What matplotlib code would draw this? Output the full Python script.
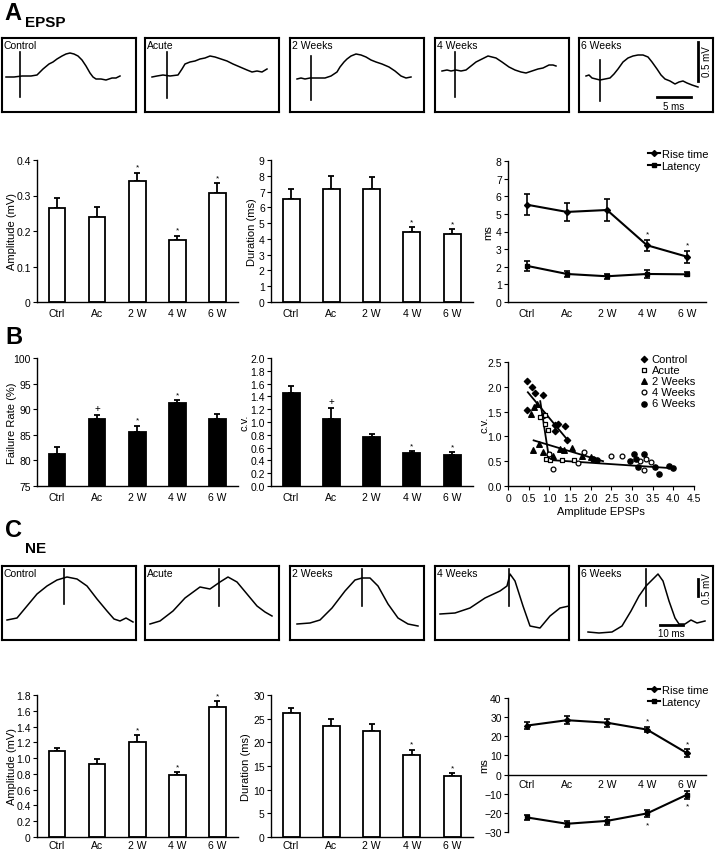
import matplotlib
matplotlib.use('Agg')
import matplotlib.pyplot as plt
from matplotlib.lines import Line2D
import numpy as np

plt.rcParams['font.family'] = ['Liberation Sans', 'DejaVu Sans']
plt.rcParams['font.size'] = 7.5

# ---------------- data ----------------
groups = ['Ctrl', 'Ac', '2 W', '4 W', '6 W']

# A - EPSP
epsp_amp = [0.264, 0.239, 0.341, 0.176, 0.308]
epsp_amp_err = [0.029, 0.030, 0.023, 0.011, 0.026]
epsp_amp_mark = ['', '', '*', '*', '*']
epsp_dur = [6.52, 7.17, 7.17, 4.43, 4.28]
epsp_dur_err = [0.65, 0.80, 0.73, 0.32, 0.34]
epsp_dur_mark = ['', '', '', '*', '*']
epsp_rise = [5.52, 5.11, 5.22, 3.22, 2.57]
epsp_rise_err = [0.59, 0.49, 0.60, 0.32, 0.35]
epsp_lat = [2.05, 1.59, 1.46, 1.59, 1.57]
epsp_lat_err = [0.28, 0.17, 0.15, 0.20, 0.12]
epsp_rise_mark = ['', '', '', '*', '*']

# B - failures / c.v.
fail_rate = [81.3, 88.0, 85.6, 91.3, 88.0]
fail_err = [1.4, 0.8, 1.2, 0.5, 1.0]
fail_mark = ['', '+', '*', '*', '']
cv_vals = [1.45, 1.04, 0.76, 0.51, 0.49]
cv_err = [0.11, 0.18, 0.06, 0.035, 0.035]
cv_mark = ['', '+', '', '*', '*']

sc_ctrl_x = [0.45, 0.57, 0.65, 0.84, 0.47, 0.88, 1.14, 1.38, 1.14, 1.42, 1.20]
sc_ctrl_y = [2.11, 1.99, 1.88, 1.83, 1.53, 1.43, 1.22, 1.21, 1.11, 0.92, 1.25]
sc_acute_x = [0.77, 0.89, 0.90, 0.96, 1.00, 0.93, 1.02, 1.30, 1.60]
sc_acute_y = [1.40, 1.44, 1.26, 1.13, 0.65, 0.55, 0.52, 0.52, 0.52]
sc_2w_x = [0.62, 0.70, 0.55, 0.75, 0.60, 1.10, 1.25, 1.55, 1.80, 2.00, 1.35, 0.85]
sc_2w_y = [1.60, 1.65, 1.45, 0.85, 0.72, 0.60, 0.75, 0.77, 0.60, 0.58, 0.72, 0.68]
sc_4w_x = [1.10, 1.00, 1.85, 2.50, 2.75, 3.20, 3.35, 3.45, 3.30, 2.05, 1.70]
sc_4w_y = [0.35, 0.65, 0.68, 0.60, 0.60, 0.50, 0.55, 0.48, 0.33, 0.55, 0.47]
sc_6w_x = [2.05, 2.15, 3.05, 3.30, 3.15, 3.55, 3.10, 3.65, 3.90, 4.00, 2.95]
sc_6w_y = [0.55, 0.52, 0.65, 0.65, 0.38, 0.38, 0.55, 0.24, 0.40, 0.37, 0.50]
# regression lines (x0, x1), (y0, y1)
fit_ctrl = ([0.48, 1.42], [1.89, 0.95])
fit_acute = ([0.78, 1.00], [1.71, 0.52])
fit_2w = ([0.62, 2.30], [0.92, 0.50])
fit_late = ([0.90, 3.95], [0.53, 0.36])

# C - NE
ne_amp = [1.084, 0.924, 1.21, 0.785, 1.65]
ne_amp_err = [0.045, 0.065, 0.08, 0.035, 0.07]
ne_amp_mark = ['', '', '*', '*', '*']
ne_dur = [26.15, 23.5, 22.5, 17.4, 12.8]
ne_dur_err = [1.1, 1.4, 1.4, 1.0, 0.7]
ne_dur_mark = ['', '', '', '*', '*']
ne_rise = [25.6, 28.4, 27.1, 23.5, 11.2]
ne_rise_err = [2.0, 2.2, 2.0, 1.5, 2.0]
ne_lat = [-22.4, -25.7, -24.2, -20.3, -10.5]
ne_lat_err = [1.3, 1.5, 2.0, 2.0, 2.0]
ne_mark = ['', '', '', '*', '*']

# example traces, (x, y) in pixels inside each 134 x 74 box
box_names = ['Control', 'Acute', '2 Weeks', '4 Weeks', '6 Weeks']
epsp_traces = [
    [(4, 39), (12, 39), (20, 38), (29, 38), (35, 37), (41, 31), (47, 26), (51, 24), (55, 21), (60, 18), (64, 16), (68, 15), (72, 16), (76, 18), (80, 22), (84, 28), (88, 35), (91, 39), (94, 41), (99, 41), (104, 42), (107, 41), (110, 40), (114, 40), (118, 38)],
    [(7, 39), (12, 38), (18, 37), (25, 38), (33, 37), (37, 31), (40, 26), (45, 24), (50, 23), (55, 21), (60, 20), (65, 18), (70, 19), (76, 21), (82, 23), (88, 26), (95, 29), (102, 32), (107, 34), (112, 33), (117, 34), (122, 31)],
    [(7, 41), (11, 40), (15, 41), (20, 40), (27, 40), (35, 40), (41, 38), (47, 34), (50, 29), (54, 24), (57, 21), (61, 18), (66, 16), (71, 17), (76, 19), (81, 22), (86, 24), (92, 26), (99, 29), (105, 33), (111, 38), (116, 40), (121, 39)],
    [(7, 33), (12, 32), (16, 33), (21, 32), (26, 33), (31, 32), (36, 28), (41, 24), (47, 21), (53, 18), (57, 19), (61, 20), (67, 24), (74, 29), (80, 32), (86, 34), (91, 35), (97, 33), (103, 31), (108, 30), (114, 27), (118, 27), (121, 28)],
    [(7, 38), (10, 37), (13, 40), (17, 41), (21, 42), (26, 41), (31, 40), (35, 36), (39, 31), (44, 24), (49, 20), (54, 18), (59, 17), (64, 17), (69, 19), (73, 24), (78, 31), (82, 37), (86, 41), (91, 43), (96, 46), (100, 44), (104, 43), (108, 45), (113, 47), (116, 48), (119, 49)],
]
epsp_stim = [(18, 14, 59), (22, 14, 60), (21, 18, 62), (20, 14, 59), (21, 22, 63)]
ne_traces = [
    [(5, 54), (15, 52), (25, 40), (35, 28), (45, 20), (55, 14), (65, 11), (75, 13), (85, 20), (95, 33), (105, 45), (112, 53), (118, 55), (124, 52), (131, 56)],
    [(5, 58), (15, 55), (28, 45), (40, 32), (55, 21), (65, 23), (75, 16), (83, 11), (92, 16), (102, 28), (112, 40), (120, 46), (127, 50)],
    [(7, 58), (20, 57), (30, 54), (42, 42), (55, 25), (65, 14), (72, 12), (80, 12), (88, 20), (98, 38), (108, 52), (118, 58), (128, 60)],
    [(5, 48), (20, 47), (35, 42), (50, 32), (65, 25), (72, 20), (75, 8), (80, 15), (88, 40), (95, 60), (105, 62), (115, 50), (125, 42), (134, 40)],
    [(9, 66), (20, 67), (33, 66), (43, 60), (52, 45), (60, 30), (67, 20), (72, 15), (79, 8), (84, 15), (90, 35), (96, 52), (100, 58), (106, 58), (112, 54), (118, 57), (126, 55)],
]
ne_stim = [(62, 3, 38), (74, 3, 40), (72, 3, 40), (74, 3, 40), (67, 3, 40)]

# ---------------- layout ----------------
W, H = 716, 853
fig = plt.figure(figsize=(W / 100, H / 100), dpi=100)


def px_axes(x0, y0, x1, y1):
    return fig.add_axes([x0 / W, 1 - y1 / H, (x1 - x0) / W, (y1 - y0) / H])


def style(ax):
    for s in ['top', 'right']:
        ax.spines[s].set_visible(False)
    for s in ['left', 'bottom']:
        ax.spines[s].set_linewidth(1.0)
    ax.tick_params(axis='y', direction='out', length=3, width=0.8, pad=1.5, labelsize=7.5)
    ax.tick_params(axis='x', length=0, pad=4, labelsize=7.5)


def set_label_x(ax, px):
    # y label centre at a given figure pixel x (label is anchored on its right side)
    bb = ax.get_position()
    frac = ((px + 5) / W - bb.x0) / bb.width
    ax.yaxis.set_label_coords(frac, 0.5)


def bar_panel(ax, vals, errs, marks, color, ylim, yticks, ylabels, ylabel, lab_x):
    x = np.arange(len(groups))
    ax.bar(x, vals, width=0.42, color=color, edgecolor='black', linewidth=1.3, zorder=2)
    ax.errorbar(x, vals, yerr=[np.zeros(len(vals)), errs], fmt='none', ecolor='black',
                elinewidth=1.3, capsize=2.5, capthick=1.3, zorder=1)
    pad = (ylim[1] - ylim[0]) * 0.015
    for xi, v, e, m in zip(x, vals, errs, marks):
        if m:
            ax.text(xi, v + e + pad, m, ha='center', va='bottom', fontsize=6 if m == '*' else 7)
    ax.set_xlim(-0.5, 4.52)
    ax.set_ylim(*ylim)
    ax.set_yticks(yticks)
    ax.set_yticklabels(ylabels)
    ax.set_xticks(x)
    ax.set_xticklabels(groups)
    ax.set_ylabel(ylabel, fontsize=8)
    style(ax)
    set_label_x(ax, lab_x)


def line_panel(ax, rise, rerr, lat, lerr):
    x = np.arange(len(groups))
    ax.errorbar(x, rise, yerr=rerr, color='black', marker='D', ms=3, lw=1.5,
                elinewidth=1.2, capsize=2.5, capthick=1.2)
    ax.errorbar(x, lat, yerr=lerr, color='black', marker='s', ms=3, lw=1.5,
                elinewidth=1.2, capsize=2.5, capthick=1.2)
    ax.set_xlim(-0.475, 4.475)
    ax.set_xticks(x)
    ax.set_xticklabels(groups)
    style(ax)


def line_legend(ax, y_px):
    handles = [Line2D([], [], color='black', marker='D', ms=3, lw=1.5),
               Line2D([], [], color='black', marker='s', ms=3, lw=1.5)]
    ax.legend(handles, ['Rise time', 'Latency'], loc='upper right',
              bbox_to_anchor=(708 / W, 1 - y_px / H), bbox_transform=fig.transFigure,
              frameon=False, fontsize=8, handlelength=1.1, handletextpad=0.15,
              labelspacing=0.15, borderpad=0, borderaxespad=0)


def trace_box(x0, y0, name, pts, stim):
    ax = px_axes(x0, y0, x0 + 134, y0 + 74)
    ax.set_xlim(0, 134)
    ax.set_ylim(74, 0)
    ax.set_xticks([])
    ax.set_yticks([])
    for s in ax.spines.values():
        s.set_linewidth(1.5)
    xs = [p[0] for p in pts]
    ys = [p[1] for p in pts]
    ax.plot(xs, ys, color='black', lw=1.1)
    ax.plot([stim[0], stim[0]], [stim[1], stim[2]], color='black', lw=1.2)
    ax.text(2, 2, name, ha='left', va='top', fontsize=7.5)
    return ax


box_left = [2, 145, 290, 435, 579]

# ---- A ----
fig.text(4 / W, 1 - 14 / H, 'A', fontsize=17, weight='bold', va='center')
fig.text(25 / W, 1 - 23 / H, 'EPSP', fontsize=11, weight='bold', va='center')
for i in range(5):
    ax = trace_box(box_left[i], 39, box_names[i], epsp_traces[i], epsp_stim[i])
    if i == 4:
        ax.plot([119, 119], [4, 43], color='black', lw=2)
        ax.text(128, 23, '0.5 mV', rotation=90, ha='center', va='center', fontsize=7)
        ax.plot([78, 112], [59, 59], color='black', lw=2)
        ax.text(95, 68, '5 ms', ha='center', va='center', fontsize=7)

ax = px_axes(37, 161, 238, 303)
bar_panel(ax, epsp_amp, epsp_amp_err, epsp_amp_mark, 'white', (0, 0.4),
          [0, 0.1, 0.2, 0.3, 0.4], ['0', '0.1', '0.2', '0.3', '0.4'], 'Amplitude (mV)', 12)
ax = px_axes(271, 161, 473, 303)
bar_panel(ax, epsp_dur, epsp_dur_err, epsp_dur_mark, 'white', (0, 9),
          range(10), [str(v) for v in range(10)], 'Duration (ms)', 252)
ax = px_axes(508, 162, 706, 303)
line_panel(ax, epsp_rise, epsp_rise_err, epsp_lat, epsp_lat_err)
ax.set_ylim(0, 8)
ax.set_yticks(range(9))
ax.set_ylabel('ms', fontsize=8)
set_label_x(ax, 488)
for xi, v, e, m in zip(range(5), epsp_rise, epsp_rise_err, epsp_rise_mark):
    if m:
        ax.text(xi, v + e + 0.1, m, ha='center', va='bottom', fontsize=6)
line_legend(ax, 150)

# ---- B ----
fig.text(5 / W, 1 - 338 / H, 'B', fontsize=17, weight='bold', va='center')
ax = px_axes(37, 359, 238, 487)
bar_panel(ax, fail_rate, fail_err, fail_mark, 'black', (75, 100),
          [75, 80, 85, 90, 95, 100], ['75', '80', '85', '90', '95', '100'], 'Failure Rate (%)', 12)
ax = px_axes(271, 359, 473, 487)
cv_ticks = np.arange(0, 2.01, 0.2)
bar_panel(ax, cv_vals, cv_err, cv_mark, 'black', (0, 2.0),
          cv_ticks, ['%.1f' % v for v in cv_ticks], 'c.v.', 244)

ax = px_axes(508, 363, 694, 487)
ax.scatter(sc_ctrl_x, sc_ctrl_y, marker='D', s=10, color='black', label='Control', zorder=3)
ax.scatter(sc_acute_x, sc_acute_y, marker='s', s=12, facecolor='white', edgecolor='black', linewidth=0.9, label='Acute', zorder=3)
ax.scatter(sc_2w_x, sc_2w_y, marker='^', s=16, color='black', label='2 Weeks', zorder=3)
ax.scatter(sc_4w_x, sc_4w_y, marker='o', s=12, facecolor='white', edgecolor='black', linewidth=0.9, label='4 Weeks', zorder=3)
ax.scatter(sc_6w_x, sc_6w_y, marker='o', s=14, color='black', label='6 Weeks', zorder=3)
for fx, fy in [fit_ctrl, fit_acute, fit_2w, fit_late]:
    ax.plot(fx, fy, color='black', lw=1.3, zorder=2)
ax.set_xlim(0, 4.5)
ax.set_ylim(0, 2.5)
xt = np.arange(0, 4.51, 0.5)
ax.set_xticks(xt)
ax.set_xticklabels(['0'] + ['%.1f' % v for v in xt[1:]])
yt = np.arange(0, 2.51, 0.5)
ax.set_yticks(yt)
ax.set_yticklabels(['%.1f' % v for v in yt])
style(ax)
ax.tick_params(axis='x', direction='out', length=3, width=0.8, pad=2)
ax.set_ylabel('c.v.', fontsize=8)
set_label_x(ax, 484)
ax.set_xlabel('Amplitude EPSPs', fontsize=8, labelpad=2)
ax.legend(loc='upper right', bbox_to_anchor=(695 / W, 1 - 355 / H), bbox_transform=fig.transFigure,
          frameon=False, fontsize=8, handlelength=0.8, handletextpad=0.3, labelspacing=0.1,
          borderpad=0, borderaxespad=0, scatterpoints=1)

# ---- C ----
fig.text(5 / W, 1 - 531 / H, 'C', fontsize=17, weight='bold', va='center')
fig.text(25 / W, 1 - 549 / H, 'NE', fontsize=11, weight='bold', va='center')
for i in range(5):
    ax = trace_box(box_left[i], 567, box_names[i], ne_traces[i], ne_stim[i])
    if i == 4:
        ax.plot([119, 119], [13, 30], color='black', lw=2)
        ax.text(128, 22, '0.5 mV', rotation=90, ha='center', va='center', fontsize=7)
        ax.plot([81, 104], [59, 59], color='black', lw=2)
        ax.text(92, 67, '10 ms', ha='center', va='center', fontsize=7)

ax = px_axes(37, 696, 238, 838)
amp_ticks = np.arange(0, 1.81, 0.2)
bar_panel(ax, ne_amp, ne_amp_err, ne_amp_mark, 'white', (0, 1.8),
          amp_ticks, ['0'] + ['%.1f' % v for v in amp_ticks[1:]], 'Amplitude (mV)', 12)
ax = px_axes(271, 696, 473, 838)
bar_panel(ax, ne_dur, ne_dur_err, ne_dur_mark, 'white', (0, 30),
          range(0, 31, 5), [str(v) for v in range(0, 31, 5)], 'Duration (ms)', 246)
for a in fig.axes[-2:]:
    a.tick_params(axis='x', pad=2)

ax = px_axes(508, 699, 706, 833)
line_panel(ax, ne_rise, ne_rise_err, ne_lat, ne_lat_err)
ax.set_ylim(-30, 40)
ax.set_yticks(range(-30, 41, 10))
ax.spines['bottom'].set_position(('data', 0))
ax.tick_params(axis='x', pad=3)
ax.set_ylabel('ms', fontsize=8)
set_label_x(ax, 484)
for xi, v, e, m in zip(range(5), ne_rise, ne_rise_err, ne_mark):
    if m:
        ax.text(xi, v + e + 1, m, ha='center', va='bottom', fontsize=6)
for xi, v, e, m in zip(range(5), ne_lat, ne_lat_err, ne_mark):
    if m:
        ax.text(xi, v - e - 2, m, ha='center', va='top', fontsize=6)
line_legend(ax, 686)

fig.savefig('out.png', dpi=100)
